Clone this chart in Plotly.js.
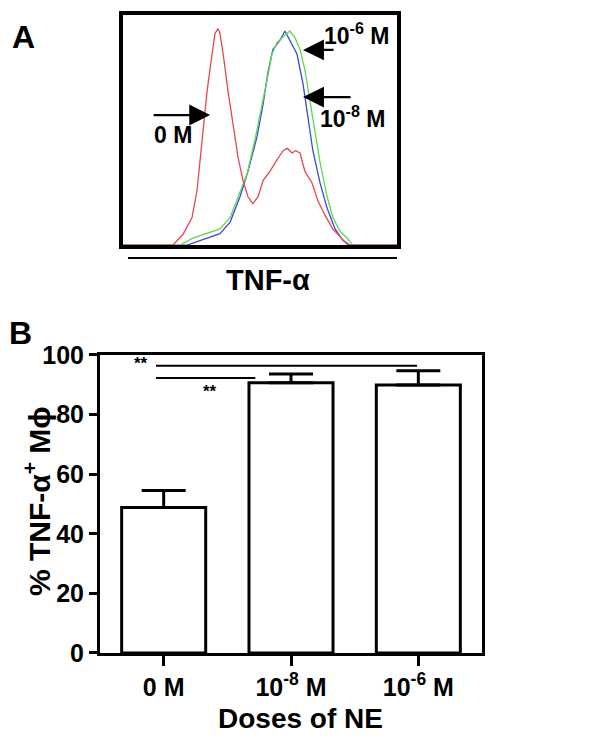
<!DOCTYPE html>
<html>
<head>
<meta charset="utf-8">
<script src="https://cdn.plot.ly/plotly-3.0.1.min.js"></script>
<style>
  body { margin: 0; background: white; }
  #plot { width: 614px; height: 745px; }
</style>
</head>
<body>
<div id="plot"></div>
<script>
// Panel A - flow histograms (TNF-alpha fluorescence, % of max)
var red_x = [0, 18.2, 21.9, 25.2, 27, 28.8, 30.7, 32.5, 33.6, 34.7, 35.4, 36.9, 38.3, 40.1, 42, 43.8, 45.6, 47.4, 49.3, 51.1, 53.6, 56.2, 58.4, 60, 61.7, 63, 64.6, 66.4, 69, 71.2, 73.7, 76.6, 79.9, 82.1, 100];
var red_y = [0, 0, 4.7, 12, 23.6, 44, 67, 83, 92, 94, 92, 80, 67, 53, 38, 28, 21, 18, 21, 28, 32, 37, 41, 42, 40, 41, 40, 32, 27, 19, 13, 7, 3, 0, 0];

var blue_x = [0, 23.4, 30.7, 35.4, 39.1, 42.7, 45.6, 48.9, 51.1, 52.9, 54.7, 57.3, 59.1, 60.9, 63.5, 65.7, 67.5, 69.3, 71.9, 74.5, 77.4, 80.3, 82.8, 100];
var blue_y = [0, 0, 3, 5, 10, 21, 32, 47, 61, 75, 85, 89, 93, 89, 83, 70, 56, 41, 27, 16, 7, 2, 0, 0];

var green_x = [0, 20.8, 25.5, 30.7, 35.4, 39.1, 42, 45.3, 48.2, 50.7, 52.6, 54.4, 56.2, 58, 59.9, 60.9, 62.8, 64.6, 66.4, 68.2, 70.1, 71.9, 74.5, 76.6, 79.2, 81.8, 83.9, 100];
var green_y = [0, 0, 3, 5, 7, 12, 21, 31, 46, 60, 72, 83, 88, 90, 92, 93, 90, 85, 76, 63, 49, 36, 21, 12, 6, 3, 0, 0];

// Panel B - bar chart
var doses = [0, 1, 2];
var dose_labels = ["0 M", "10<sup>-8</sup> M", "10<sup>-6</sup> M"];
var pct_tnf = [48.8, 90.7, 89.9];
var pct_err = [5.7, 2.9, 4.8];

var fontFam = "Liberation Sans, Arial, sans-serif";

var traceRed = {x: red_x, y: red_y, type: "scatter", mode: "lines", line: {color: "#e8474f", width: 1.3}, xaxis: "x", yaxis: "y"};
var traceBlue = {x: blue_x, y: blue_y, type: "scatter", mode: "lines", line: {color: "#3a48e0", width: 1.3}, xaxis: "x", yaxis: "y"};
var traceGreen = {x: green_x, y: green_y, type: "scatter", mode: "lines", line: {color: "#5fd84a", width: 1.3}, xaxis: "x", yaxis: "y"};

var traceBars = {
  x: doses,
  y: pct_tnf,
  type: "bar",
  width: 0.66,
  marker: {color: "white", line: {color: "black", width: 3}},
  error_y: {type: "data", symmetric: false, array: pct_err, arrayminus: [0, 0, 0], color: "black", thickness: 3, width: 22},
  xaxis: "x2",
  yaxis: "y2"
};

var data = [traceBlue, traceGreen, traceRed, traceBars];

var boxAxis = {showline: true, mirror: true, linewidth: 4, linecolor: "black", showticklabels: false, ticks: "", showgrid: false, zeroline: false, fixedrange: true};

var layout = {
  width: 614,
  height: 745,
  margin: {l: 0, r: 0, t: 0, b: 0},
  paper_bgcolor: "white",
  plot_bgcolor: "white",
  showlegend: false,
  font: {family: fontFam, color: "black", weight: "bold"},
  xaxis: Object.assign({domain: [0.2003, 0.6466], range: [0, 100], anchor: "y"}, boxAxis),
  yaxis: Object.assign({domain: [0.671, 0.98], range: [0, 100], anchor: "x"}, boxAxis),
  xaxis2: {
    domain: [0.1629, 0.785], range: [-0.5, 2.5], anchor: "y2",
    tickvals: doses, ticktext: dose_labels,
    ticks: "outside", ticklen: 10, tickwidth: 3, tickcolor: "black",
    showline: true, mirror: true, linewidth: 3, linecolor: "black",
    showgrid: false, zeroline: false,
    tickfont: {size: 25, family: fontFam, weight: "bold"}
  },
  yaxis2: {
    domain: [0.1235, 0.5235], range: [0, 100], anchor: "x2",
    tickvals: [0, 20, 40, 60, 80, 100],
    ticks: "outside", ticklen: 8, tickwidth: 3, tickcolor: "black",
    showline: true, mirror: true, linewidth: 3, linecolor: "black",
    showgrid: false, zeroline: false,
    tickfont: {size: 25, family: fontFam, weight: "bold"}
  },
  shapes: [
    // line under histogram
    {type: "line", xref: "paper", yref: "paper", x0: 0.2085, x1: 0.6466, y0: 0.6537, y1: 0.6537, line: {color: "black", width: 2}},
    // significance bars
    {type: "line", xref: "x2", yref: "y2", x0: -0.06, x1: 1.99, y0: 96.4, y1: 96.4, line: {color: "black", width: 2}},
    {type: "line", xref: "x2", yref: "y2", x0: -0.06, x1: 0.72, y0: 92.3, y1: 92.3, line: {color: "black", width: 2}}
  ],
  annotations: [
    {text: "A", xref: "paper", yref: "paper", x: 0.0163, y: 0.9503, xanchor: "left", yanchor: "middle", showarrow: false, font: {size: 32, weight: "bold"}},
    {text: "B", xref: "paper", yref: "paper", x: 0.0114, y: 0.553, xanchor: "left", yanchor: "middle", showarrow: false, font: {size: 32, weight: "bold"}},
    {text: "TNF-α", xref: "paper", yref: "paper", x: 0.4365, y: 0.6242, xanchor: "center", yanchor: "middle", showarrow: false, font: {size: 29, weight: "bold"}},
    // arrows in panel A
    {text: "", xref: "x", yref: "y", x: 65.7, y: 84.8, ax: 32, ay: 0, showarrow: true, arrowhead: 2, arrowsize: 1.9, arrowwidth: 2.2, arrowcolor: "black"},
    {text: "", xref: "x", yref: "y", x: 65.7, y: 64.3, ax: 49, ay: 0, showarrow: true, arrowhead: 2, arrowsize: 1.9, arrowwidth: 2.2, arrowcolor: "black"},
    {text: "", xref: "x", yref: "y", x: 31.8, y: 56.5, ax: -58, ay: 0, showarrow: true, arrowhead: 2, arrowsize: 1.9, arrowwidth: 2.2, arrowcolor: "black"},
    {text: "10<sup>-6</sup> M", xref: "x", yref: "y", x: 72.6, y: 91.5, xanchor: "left", yanchor: "middle", showarrow: false, font: {size: 23, weight: "bold"}},
    {text: "10<sup>-8</sup> M", xref: "x", yref: "y", x: 71.2, y: 55.7, xanchor: "left", yanchor: "middle", showarrow: false, font: {size: 23, weight: "bold"}},
    {text: "0 M", xref: "x", yref: "y", x: 10.6, y: 47.8, xanchor: "left", yanchor: "middle", showarrow: false, font: {size: 23, weight: "bold"}},
    // panel B titles and stars
    {text: "Doses of NE", xref: "paper", yref: "paper", x: 0.4902, y: 0.0362, xanchor: "center", yanchor: "middle", showarrow: false, font: {size: 28, weight: "bold"}},
    {text: "% TNF-α<sup>+</sup> Mϕ", xref: "paper", yref: "paper", x: 0.0603, y: 0.3275, xanchor: "center", yanchor: "middle", textangle: -90, showarrow: false, font: {size: 30, weight: "bold"}},
    {text: "**", xref: "x2", yref: "y2", x: -0.18, y: 97.3, xanchor: "center", yanchor: "middle", showarrow: false, font: {size: 17, weight: "bold"}},
    {text: "**", xref: "x2", yref: "y2", x: 0.36, y: 87.6, xanchor: "center", yanchor: "middle", showarrow: false, font: {size: 17, weight: "bold"}}
  ]
};

Plotly.newPlot("plot", data, layout, {staticPlot: true});
</script>
</body>
</html>
